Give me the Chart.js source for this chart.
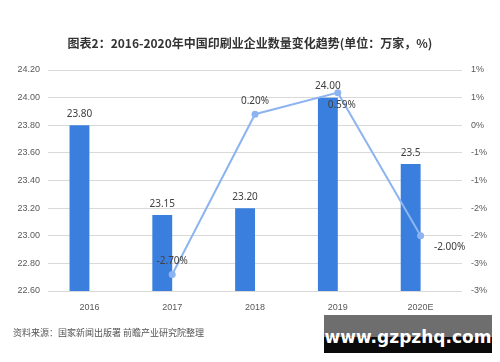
<!DOCTYPE html>
<html>
<head>
    <meta charset="utf-8">
    <title>2016-2020年中国印刷业企业数量变化趋势</title>
    <script src="https://cdn.jsdelivr.net/npm/chart.js"></script>
    <style>
        body { margin: 0; background: #fff; font-family: "Noto Sans CJK SC", "Noto Sans", sans-serif; }
        #wrap { position: relative; width: 500px; height: 362px; overflow: hidden; }
        #title { position: absolute; left: 0; top: 34px; width: 500px; text-align: center;
                 font-size: 12px; font-weight: bold; color: #333; }
        #source { position: absolute; left: 13px; top: 326px; font-size: 9px; color: #555; }
        #mark { position: absolute; left: 324px; top: 315px; width: 168px; height: 38px;
                background: linear-gradient(#6e6e6e 0, #6e6e6e 22px, #0a0a0a 22px);
                color: #fff; font: bold 17px "DejaVu Sans", sans-serif; text-align: center; line-height: 44px; }
        canvas { position: absolute; left: 0; top: 0; }
    </style>
</head>
<body>
<div id="wrap">
    <canvas id="mainChart" width="500" height="362"></canvas>
    <div id="title">图表2：2016-2020年中国印刷业企业数量变化趋势(单位：万家，%)</div>
    <div id="source">资料来源：国家新闻出版署 前瞻产业研究院整理</div>
    <div id="mark">www.gzpzhq.com</div>
</div>
<script>
    const years = ['2016', '2017', '2018', '2019', '2020E'];
    const counts = [23.80, 23.15, 23.20, 24.00, 23.52];
    const countLabels = ['23.80', '23.15', '23.20', '24.00', '23.5'];
    const growth = [null, -2.70, 0.20, 0.59, -2.00];

    // Смещения подписей линии (dx, dy)
    const lineLabelShift = [null, [0, -13], [0, -13], [4, 13], [29, 11]];

    const barBlue = 'rgb(58, 127, 222)';
    const lineBlue = 'rgb(141, 180, 240)';

    const valueLabels = {
        id: 'valueLabels',
        afterDatasetsDraw(chart) {
            const ctx = chart.ctx;
            ctx.save();
            ctx.font = '10px "Noto Sans", sans-serif';
            ctx.fillStyle = '#404040';
            ctx.textAlign = 'center';
            ctx.textBaseline = 'middle';
            chart.getDatasetMeta(0).data.forEach((el, i) => {
                ctx.fillText(countLabels[i], el.x, el.y - 11);
            });
            chart.getDatasetMeta(2).data.forEach((el, i) => {
                if (growth[i] === null) return;
                const s = lineLabelShift[i];
                ctx.fillText(growth[i].toFixed(2) + '%', el.x + s[0], el.y + s[1]);
            });
            ctx.restore();
        }
    };

    const excelPct = v => {
        const r = Math.sign(v) * Math.round(Math.abs(v));
        return (r === 0 ? 0 : r) + '%';
    };

    new Chart(document.getElementById('mainChart'), {
        data: {
            labels: years,
            datasets: [
                {
                    type: 'bar',
                    label: '企业数量',
                    data: counts,
                    backgroundColor: barBlue,
                    yAxisID: 'y',
                    categoryPercentage: 0.48,
                    barPercentage: 1,
                    order: 2
                },
                {
                    type: 'bar',
                    label: '',
                    data: years.map(() => null),
                    yAxisID: 'y',
                    categoryPercentage: 0.48,
                    barPercentage: 1,
                    order: 3
                },
                {
                    type: 'line',
                    label: '增速',
                    data: growth,
                    yAxisID: 'y1',
                    borderColor: lineBlue,
                    backgroundColor: lineBlue,
                    borderWidth: 2,
                    pointRadius: 3.5,
                    pointBorderWidth: 0,
                    tension: 0,
                    order: 1
                }
            ]
        },
        options: {
            responsive: false,
            animation: false,
            layout: { padding: { left: 0, right: 0, top: 70, bottom: 41 } },
            plugins: {
                legend: { display: false },
                title: { display: false },
                tooltip: { enabled: false }
            },
            scales: {
                x: {
                    grid: { display: false },
                    border: { display: false },
                    ticks: { color: '#595959', font: { size: 9 }, padding: 3 },
                    afterFit: s => { s.height = 30; }
                },
                y: {
                    position: 'left',
                    min: 22.6,
                    max: 24.2,
                    grid: { color: '#d9d9d9', drawTicks: false },
                    border: { display: false },
                    ticks: {
                        stepSize: 0.2,
                        color: '#595959',
                        font: { size: 9 },
                        padding: 8,
                        callback: v => v.toFixed(2)
                    },
                    afterFit: s => { s.width = 48; }
                },
                y1: {
                    position: 'right',
                    min: -3,
                    max: 1,
                    grid: { display: false, drawTicks: false },
                    border: { display: false },
                    ticks: {
                        stepSize: 0.5,
                        color: '#595959',
                        font: { size: 9 },
                        padding: 9,
                        callback: excelPct
                    },
                    afterFit: s => { s.width = 38; }
                }
            }
        },
        plugins: [valueLabels]
    });
</script>
</body>
</html>
